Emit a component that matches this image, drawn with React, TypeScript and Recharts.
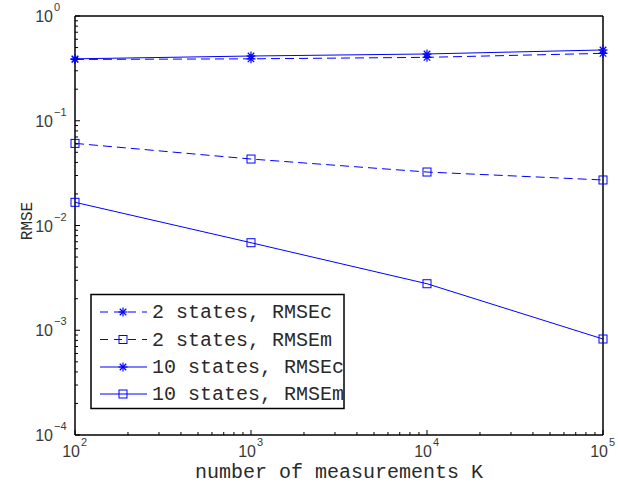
import { LineChart, Line, XAxis, YAxis } from 'recharts';

const K = [100, 1000, 10000, 100000];
const rmsec2 = [0.385, 0.39, 0.403, 0.44];
const rmsem2 = [0.0608, 0.0431, 0.0324, 0.0272];
const rmsec10 = [0.39, 0.415, 0.434, 0.474];
const rmsem10 = [0.01665, 0.00685, 0.00278, 0.000825];

const X_DECADES = [100, 1000, 10000, 100000];
const Y_DECADES = [0.0001, 0.001, 0.01, 0.1, 1];
const MINOR = [2, 3, 4, 5, 6, 7, 8, 9];

const withMinor = (dec: number[]) =>
  dec.flatMap((d, i) => (i < dec.length - 1 ? [d, ...MINOR.map((m) => d * m)] : [d]));

const X_TICKS = withMinor(X_DECADES);
const Y_TICKS = withMinor(Y_DECADES);

const BLUE = '#0000ff';

const SERIES = [
  { key: 'c2', name: '2 states, RMSEc', dash: '9 5', marker: 'star' },
  { key: 'm2', name: '2 states, RMSEm', dash: '9 5', marker: 'square' },
  { key: 'c10', name: '10 states, RMSEc', dash: undefined, marker: 'star' },
  { key: 'm10', name: '10 states, RMSEm', dash: undefined, marker: 'square' },
];

const rows = K.map((k, i) => ({ k, c2: rmsec2[i], m2: rmsem2[i], c10: rmsec10[i], m10: rmsem10[i] }));

// exposant entier si la valeur est une puissance de 10, sinon null
const decade = (v: number) => {
  const l = Math.log10(v);
  const e = Math.round(l);
  return Math.abs(l - e) < 1e-6 ? e : null;
};

function Marker({ cx, cy, type }: { cx: number; cy: number; type: string }) {
  if (type === 'square') {
    return <rect x={cx - 4} y={cy - 4} width={8} height={8} fill="none" stroke={BLUE} strokeWidth={1} />;
  }
  const r = 4.5;
  const d = r * 0.72;
  return (
    <g stroke={BLUE} strokeWidth={1.2}>
      <line x1={cx - r} y1={cy} x2={cx + r} y2={cy} />
      <line x1={cx} y1={cy - r} x2={cx} y2={cy + r} />
      <line x1={cx - d} y1={cy - d} x2={cx + d} y2={cy + d} />
      <line x1={cx - d} y1={cy + d} x2={cx + d} y2={cy - d} />
    </g>
  );
}

const LABEL = { fontFamily: '"Liberation Sans", Arial, sans-serif', fill: '#3a3a3a' };

function BottomTick({ x, y, payload }: any) {
  const e = decade(payload.value);
  return (
    <g>
      <line x1={x} x2={x} y1={y} y2={y - (e !== null ? 5 : 3)} stroke="#000" />
      {e !== null && (
        <g style={LABEL}>
          <text x={x + 5} y={y + 22} textAnchor="end" fontSize={16}>10</text>
          <text x={x + 6} y={y + 11} textAnchor="start" fontSize={11}>{e}</text>
        </g>
      )}
    </g>
  );
}

function TopTick({ x, y, payload }: any) {
  const e = decade(payload.value);
  return <line x1={x} x2={x} y1={y} y2={y + (e !== null ? 5 : 3)} stroke="#000" />;
}

function LeftTick({ x, y, payload }: any) {
  const e = decade(payload.value);
  return (
    <g>
      <line x1={x} x2={x + (e !== null ? 5 : 3)} y1={y} y2={y} stroke="#000" />
      {e !== null && (
        <g style={LABEL}>
          <text x={x - 22} y={y + 6} textAnchor="end" fontSize={16}>10</text>
          <text x={x - 21} y={y - 5} textAnchor="start" fontSize={11}>{e === 0 ? '0' : `\u2212${-e}`}</text>
        </g>
      )}
    </g>
  );
}

function RightTick({ x, y, payload }: any) {
  const e = decade(payload.value);
  return <line x1={x} x2={x - (e !== null ? 5 : 3)} y1={y} y2={y} stroke="#000" />;
}

const MONO = '"Liberation Mono", "Courier New", monospace';

function Overlay() {
  const rowY = [312, 339.5, 367, 394];
  return (
    <svg width={618} height={487} style={{ position: 'absolute', left: 0, top: 0, pointerEvents: 'none' }}>
      <rect x={91} y={294.5} width={253} height={114} fill="#fff" stroke="#000" strokeWidth={1.5} />
      {SERIES.map((s, i) => (
        <g key={s.key}>
          <line x1={100} x2={147} y1={rowY[i]} y2={rowY[i]} stroke={BLUE} strokeDasharray={s.dash ? '8 6' : undefined} />
          <Marker cx={123} cy={rowY[i]} type={s.marker} />
          <text x={152} y={rowY[i] + 6} fontFamily={MONO} fontSize={20} fill="#2a2a2a">{s.name}</text>
        </g>
      ))}
      <text x={339} y={478} textAnchor="middle" fontFamily={MONO} fontSize={20} fill="#2a2a2a">
        number of measurements K
      </text>
      <text
        x={0}
        y={0}
        transform="translate(32 221) rotate(-90)"
        textAnchor="middle"
        fontFamily={MONO}
        fontSize={16}
        fill="#2a2a2a"
      >
        RMSE
      </text>
    </svg>
  );
}

export default function App() {
  return (
    <div style={{ position: 'absolute', left: 0, top: 0, width: 618, height: 487, background: '#fff' }}>
      <LineChart width={618} height={487} data={rows} margin={{ top: 0, right: 0, bottom: 0, left: 0 }}>
        <XAxis
          dataKey="k"
          type="number"
          scale="log"
          domain={[100, 100000]}
          ticks={X_TICKS}
          interval={0}
          tickSize={0}
          tickMargin={0}
          tickLine={false}
          height={52}
          axisLine={{ stroke: '#000', strokeWidth: 1.5 }}
          tick={<BottomTick />}
        />
        <XAxis
          xAxisId="top"
          orientation="top"
          type="number"
          scale="log"
          domain={[100, 100000]}
          ticks={X_TICKS}
          interval={0}
          tickSize={0}
          tickMargin={0}
          tickLine={false}
          height={16}
          axisLine={{ stroke: '#000', strokeWidth: 1.5 }}
          tick={<TopTick />}
        />
        <YAxis
          type="number"
          scale="log"
          domain={[0.0001, 1]}
          ticks={Y_TICKS}
          interval={0}
          tickSize={0}
          tickMargin={0}
          tickLine={false}
          width={75}
          axisLine={{ stroke: '#000', strokeWidth: 1.5 }}
          tick={<LeftTick />}
        />
        <YAxis
          yAxisId="right"
          orientation="right"
          type="number"
          scale="log"
          domain={[0.0001, 1]}
          ticks={Y_TICKS}
          interval={0}
          tickSize={0}
          tickMargin={0}
          tickLine={false}
          width={15}
          axisLine={{ stroke: '#000', strokeWidth: 1.5 }}
          tick={<RightTick />}
        />
        {SERIES.map((s) => (
          <Line
            key={s.key}
            dataKey={s.key}
            name={s.name}
            stroke={BLUE}
            strokeWidth={1}
            strokeDasharray={s.dash}
            isAnimationActive={false}
            dot={(p: any) => <Marker key={`${s.key}-${p.index}`} cx={p.cx} cy={p.cy} type={s.marker} />}
            activeDot={false}
          />
        ))}
      </LineChart>
      <Overlay />
    </div>
  );
}
